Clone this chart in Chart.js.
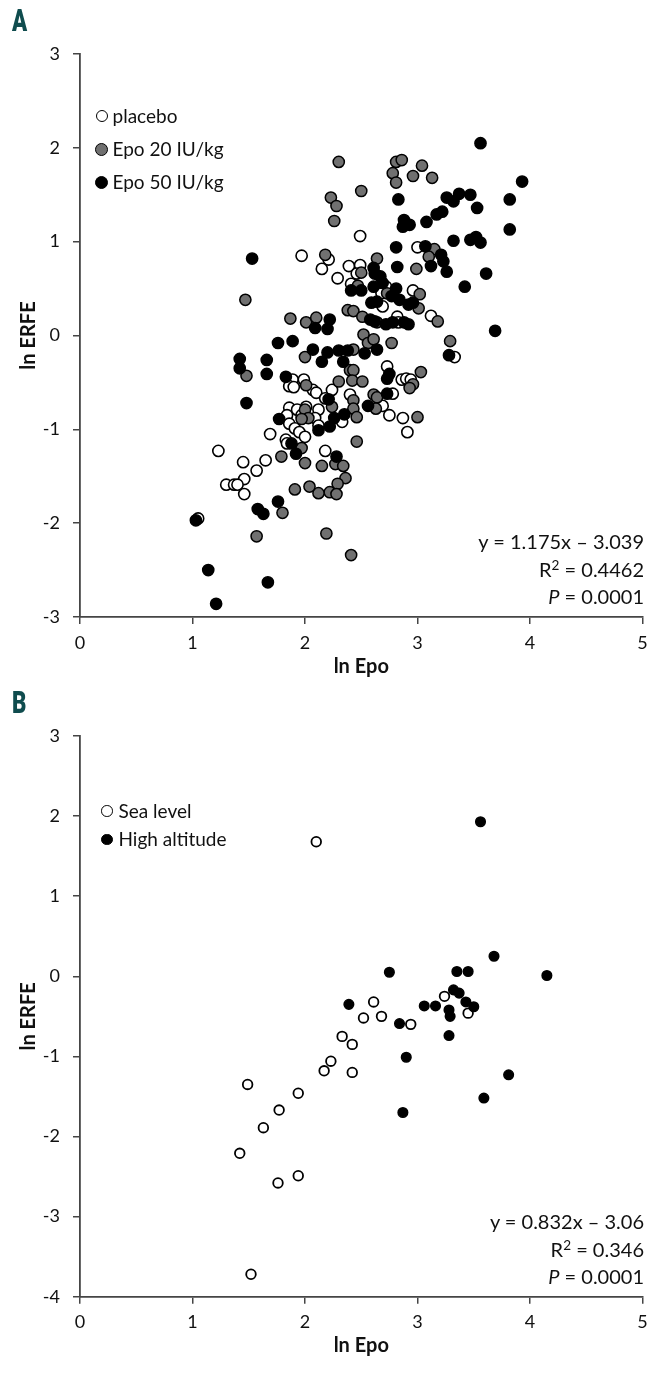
<!DOCTYPE html>
<html lang="en">
<head>
<meta charset="UTF-8">
<title>ln ERFE vs ln Epo</title>
<script src="https://cdn.jsdelivr.net/npm/chart.js"></script>
<style>
  body { margin: 0; background: #fff; font-family: Lato, "Open Sans", sans-serif; color: #111; }
  .page { position: relative; width: 669px; height: 1376px; overflow: hidden; }
  .panel { position: absolute; left: 0; width: 669px; }
  #panelA { top: 0; height: 690px; }
  #panelB { top: 690px; height: 686px; }
  .letter {
    position: absolute; font-family: Roboto, sans-serif; font-weight: 900;
    font-size: 31px; line-height: 31px; color: #0f4c4e;
    transform: scaleX(0.72); transform-origin: left top;
  }
  .dot { position: absolute; box-sizing: border-box; border: 1.5px solid #000; border-radius: 50%; }
  .lbl { position: absolute; font-size: 19px; height: 24px; line-height: 24px; white-space: nowrap; }
  .eq { position: absolute; right: 25px; font-size: 20px; height: 26px; line-height: 26px; white-space: nowrap; text-align: right; }
  .eq sup { font-size: 0.68em; line-height: 0; vertical-align: 0.55em; }
</style>
</head>
<body>
<div class="page">
  <div class="panel" id="panelA"><canvas id="chartA" width="669" height="690"></canvas></div>
  <div class="panel" id="panelB"><canvas id="chartB" width="669" height="686"></canvas></div>

  <div class="letter" style="left:12px; top:5px;">A</div>
  <div class="letter" style="left:12px; top:687px;">B</div>

  <!-- legend A -->
  <div class="dot" style="left:95.5px; top:110px; width:12px; height:12px; background:#fff;"></div>
  <div class="lbl" style="left:112.5px; top:104px;">placebo</div>
  <div class="dot" style="left:95px; top:143px; width:13px; height:13px; background:#707070;"></div>
  <div class="lbl" style="left:112.5px; top:137px;">Epo 20 IU/kg</div>
  <div class="dot" style="left:95px; top:176px; width:13px; height:13px; background:#000;"></div>
  <div class="lbl" style="left:112.5px; top:170px;">Epo 50 IU/kg</div>

  <!-- legend B -->
  <div class="dot" style="left:101px; top:805px; width:11.5px; height:11.5px; background:#fff;"></div>
  <div class="lbl" style="left:118.5px; top:798.5px;">Sea level</div>
  <div class="dot" style="left:101px; top:833.5px; width:11.5px; height:11.5px; background:#000;"></div>
  <div class="lbl" style="left:118.5px; top:827px;">High altitude</div>

  <!-- regression A -->
  <div class="eq" style="top:528px;">y = 1.175x – 3.039</div>
  <div class="eq" style="top:556px;">R<sup>2</sup> = 0.4462</div>
  <div class="eq" style="top:583px;"><i>P</i> = 0.0001</div>

  <!-- regression B -->
  <div class="eq" style="top:1208px;">y = 0.832x – 3.06</div>
  <div class="eq" style="top:1236px;">R<sup>2</sup> = 0.346</div>
  <div class="eq" style="top:1263px;"><i>P</i> = 0.0001</div>
</div>

<script>
  // tick values
  const xTicks = [0, 1, 2, 3, 4, 5];
  const yTicksA = [-3, -2, -1, 0, 1, 2, 3];
  const yTicksB = [-4, -3, -2, -1, 0, 1, 2, 3];

  // panel A: [ln Epo, ln ERFE]
  const placeboA = [
    [1.97,0.85],[2.21,0.81],[2.15,0.71],[2.29,0.61],[2.39,0.74],[2.49,1.06],[2.49,0.75],[2.46,0.66],
    [2.41,0.55],[2.72,0.52],[2.68,0.45],[2.96,0.48],[2.69,0.31],[3.12,0.21],[2.82,0.20],[2.83,0.14],
    [3.00,0.94],[3.33,-0.23],[2.73,-0.33],[2.86,-0.47],[2.90,-0.46],[2.94,-0.47],[2.78,-0.62],[2.69,-0.75],
    [2.75,-0.85],[2.87,-0.88],[2.91,-1.03],[2.40,-0.63],[1.89,-0.47],[1.86,-0.54],[1.90,-0.55],[1.99,-0.47],
    [2.07,-0.58],[2.10,-0.61],[2.18,-0.67],[2.24,-0.58],[1.86,-0.77],[1.93,-0.79],[1.84,-0.85],[1.97,-0.85],
    [2.12,-0.79],[2.09,-0.88],[1.86,-0.94],[1.91,-0.99],[1.95,-1.03],[2.00,-1.08],[2.12,-0.96],[2.33,-0.92],
    [2.01,-0.76],[1.69,-1.05],[1.83,-1.11],[1.84,-1.15],[2.18,-1.23],[1.23,-1.23],[1.45,-1.35],[1.57,-1.44],
    [1.65,-1.33],[1.46,-1.53],[1.30,-1.59],[1.37,-1.59],[1.40,-1.59],[1.46,-1.69],[1.05,-1.95]
  ];
  const epo20A = [
    [2.30,1.85],[2.23,1.47],[2.28,1.38],[2.26,1.22],[2.50,1.54],[2.81,1.85],[2.86,1.87],[3.04,1.81],
    [2.78,1.73],[2.96,1.70],[3.13,1.68],[2.81,1.63],[2.18,0.86],[1.47,0.38],[2.50,0.67],[2.64,0.82],
    [3.15,0.92],[3.10,0.84],[2.99,0.71],[2.47,0.53],[2.73,0.45],[3.02,0.44],[3.01,0.29],[3.18,0.15],
    [1.87,0.18],[2.01,0.14],[2.10,0.19],[2.38,0.27],[2.43,0.26],[2.51,0.20],[2.64,0.14],[2.52,0.01],
    [2.56,-0.08],[2.61,-0.04],[2.77,-0.08],[2.43,-0.15],[2.00,-0.23],[3.29,-0.06],[1.48,-0.43],[2.01,-0.53],
    [2.30,-0.49],[2.40,-0.37],[2.43,-0.37],[2.42,-0.48],[2.51,-0.49],[3.03,-0.39],[2.96,-0.52],[2.93,-0.56],
    [2.61,-0.63],[2.64,-0.66],[2.24,-0.76],[2.43,-0.69],[2.43,-0.78],[2.46,-0.87],[2.63,-0.78],[3.00,-0.87],
    [2.00,-0.79],[2.03,-0.88],[1.97,-0.89],[1.97,-1.20],[2.46,-1.13],[1.79,-1.29],[2.00,-1.36],[2.15,-1.39],
    [2.27,-1.37],[2.34,-1.39],[2.36,-1.52],[2.29,-1.58],[2.22,-1.67],[2.28,-1.69],[2.12,-1.68],[2.04,-1.61],
    [1.91,-1.64],[1.80,-1.89],[1.57,-2.14],[2.19,-2.11],[2.41,-2.34]
  ];
  const epo50A = [
    [3.56,2.05],[3.93,1.64],[2.83,1.45],[3.26,1.47],[3.32,1.43],[3.37,1.51],[3.47,1.50],[3.82,1.45],
    [3.53,1.36],[3.17,1.29],[3.22,1.32],[2.88,1.23],[2.93,1.18],[2.87,1.16],[3.08,1.21],[3.82,1.13],
    [3.32,1.01],[3.47,1.02],[3.52,1.05],[3.56,0.99],[2.81,0.94],[3.07,0.95],[3.21,0.86],[3.23,0.79],
    [3.12,0.74],[3.26,0.68],[3.61,0.66],[1.53,0.82],[2.61,0.72],[2.62,0.66],[2.67,0.63],[2.69,0.56],
    [2.82,0.73],[2.41,0.48],[2.50,0.48],[2.61,0.52],[2.81,0.50],[2.77,0.42],[2.84,0.38],[2.92,0.33],
    [2.96,0.35],[3.42,0.52],[2.59,0.35],[2.64,0.36],[3.69,0.05],[2.09,0.08],[2.20,0.07],[2.22,0.17],
    [2.58,0.17],[2.62,0.15],[2.72,0.12],[2.78,0.14],[2.88,0.14],[2.92,0.12],[1.76,-0.08],[1.89,-0.06],
    [2.07,-0.15],[2.20,-0.18],[2.30,-0.16],[2.38,-0.16],[2.53,-0.19],[2.64,-0.15],[3.28,-0.21],[1.42,-0.25],
    [1.66,-0.26],[2.15,-0.28],[2.34,-0.28],[1.42,-0.35],[1.66,-0.41],[1.83,-0.44],[2.75,-0.41],[2.73,-0.46],
    [2.73,-0.62],[2.21,-0.68],[2.35,-0.84],[2.56,-0.75],[1.77,-0.89],[2.12,-1.01],[2.22,-0.97],[2.26,-0.88],
    [1.88,-1.15],[1.92,-1.26],[2.28,-1.29],[1.76,-1.77],[1.58,-1.85],[1.63,-1.90],[1.03,-1.97],[1.48,-0.72],
    [1.14,-2.50],[1.67,-2.63],[1.21,-2.86]
  ];

  // panel B
  const seaLevelB = [
    [1.52,-3.72],[1.42,-2.21],[1.76,-2.58],[1.94,-2.49],[1.63,-1.89],[1.77,-1.67],[1.49,-1.35],[1.94,-1.46],
    [2.17,-1.18],[2.42,-1.20],[2.23,-1.06],[2.42,-0.85],[2.33,-0.75],[2.52,-0.52],[2.61,-0.32],[2.68,-0.50],
    [2.94,-0.60],[3.24,-0.25],[3.45,-0.46],[2.10,1.68]
  ];
  const highAltitudeB = [
    [3.56,1.93],[3.68,0.25],[2.75,0.05],[3.35,0.06],[3.45,0.06],[4.15,0.01],[3.32,-0.17],[3.37,-0.21],
    [3.43,-0.32],[3.50,-0.38],[2.39,-0.35],[3.06,-0.37],[3.16,-0.37],[3.28,-0.42],[3.29,-0.50],[2.84,-0.59],
    [3.28,-0.74],[2.90,-1.01],[3.81,-1.23],[3.59,-1.52],[2.87,-1.70]
  ];

  Chart.defaults.font.family = 'Lato, "Open Sans", sans-serif';
  Chart.defaults.color = '#111';

  const axisColor = '#454545';

  function toPoints(arr) {
    return arr.map(p => ({ x: p[0], y: p[1] }));
  }

  function makeChart(id, series, yTicks, cfg) {
    return new Chart(document.getElementById(id), {
      type: 'scatter',
      data: {
        datasets: series.map(s => ({
          label: s.label,
          data: toPoints(s.data),
          backgroundColor: s.fill,
          borderColor: '#000',
          borderWidth: s.border,
          pointRadius: cfg.radius,
          pointHoverRadius: cfg.radius,
          order: s.order,
          clip: false
        }))
      },
      options: {
        responsive: false,
        animation: false,
        devicePixelRatio: 1,
        layout: { padding: { top: cfg.top, right: 26.5, left: 0, bottom: 0 } },
        plugins: { legend: { display: false }, tooltip: { enabled: false } },
        scales: {
          x: {
            type: 'linear',
            min: 0, max: 5,
            afterBuildTicks: s => { s.ticks = xTicks.map(v => ({ value: v })); },
            afterFit: s => { s.height = cfg.xHeight; },
            ticks: { font: { size: 18 }, padding: 8, color: '#111' },
            grid: { drawOnChartArea: false, tickLength: 7, color: axisColor, lineWidth: 1.5 },
            border: { color: axisColor, width: 1.8 },
            title: { display: true, text: 'ln Epo', font: { size: 20, weight: 'bold' }, color: '#111',
                     padding: { top: 0, bottom: cfg.titleBottom } }
          },
          y: {
            type: 'linear',
            min: yTicks[0], max: yTicks[yTicks.length - 1],
            afterBuildTicks: s => { s.ticks = yTicks.map(v => ({ value: v })); },
            afterFit: s => { s.width = 80; },
            ticks: { font: { size: 18 }, padding: 13, color: '#111' },
            grid: { drawOnChartArea: false, tickLength: 7, color: axisColor, lineWidth: 1.5 },
            border: { color: axisColor, width: 1.8 },
            title: { display: true, text: 'ln ERFE', font: { size: 20, weight: 'bold' }, color: '#111',
                     padding: { top: 17, bottom: 0 } }
          }
        }
      }
    });
  }

  makeChart('chartA', [
    { label: 'placebo', data: placeboA, fill: '#fff', border: 1.6, order: 3 },
    { label: 'Epo 20 IU/kg', data: epo20A, fill: '#707070', border: 1.5, order: 2 },
    { label: 'Epo 50 IU/kg', data: epo50A, fill: '#000', border: 1.5, order: 1 }
  ], yTicksA, { top: 54, xHeight: 73, titleBottom: 11, radius: 5.6 });

  makeChart('chartB', [
    { label: 'Sea level', data: seaLevelB, fill: '#fff', border: 1.8, order: 2 },
    { label: 'High altitude', data: highAltitudeB, fill: '#000', border: 1.5, order: 1 }
  ], yTicksB, { top: 46, xHeight: 79.3, titleBottom: 18, radius: 4.8 });
</script>
</body>
</html>
